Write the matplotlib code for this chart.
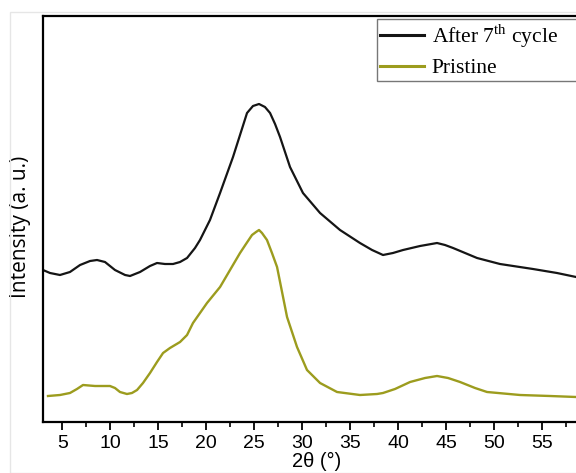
import numpy as np
import matplotlib
matplotlib.use("Agg")
import matplotlib.pyplot as plt
from matplotlib.ticker import MultipleLocator
from matplotlib.patches import Rectangle

plt.rcParams['mathtext.fontset'] = 'custom'
plt.rcParams['mathtext.rm'] = 'Liberation Serif'

# 読み取った値 (2θ, 強度は任意単位)
cycled_2theta = [3.00, 3.73, 4.77, 5.81, 6.86, 7.90, 8.63, 9.46, 10.50, 11.55,
                 12.07, 13.11, 14.15, 14.88, 15.71, 16.55, 17.28, 18.01, 18.84, 19.36,
                 20.40, 21.45, 22.80, 23.53, 24.26, 24.88, 25.51, 26.13, 26.66, 27.18,
                 27.70, 28.74, 30.09, 31.87, 33.95, 36.03, 37.29, 38.43, 39.47, 40.52,
                 42.29, 44.06, 44.89, 45.73, 48.23, 50.62, 54.06, 56.56, 58.55, 60.00]
cycled_intensity = [152, 149, 147, 150, 157, 161, 162, 160, 152, 147,
                    146, 150, 156, 159, 158, 158, 160, 164, 174, 182,
                    202, 229, 265, 287, 309, 316, 318, 315, 309, 298,
                    285, 255, 229, 209, 192, 179, 172, 167, 169, 172,
                    176, 179, 177, 174, 164, 158, 153, 149, 145, 143]

pristine_2theta = [3.52, 4.77, 5.81, 6.54, 7.17, 8.42, 9.98, 10.50, 11.02, 11.75,
                   12.27, 12.80, 13.42, 14.15, 14.88, 15.51, 16.23, 17.28, 18.01, 18.63,
                   19.36, 20.09, 21.45, 22.49, 23.53, 24.15, 24.78, 25.20, 25.51, 25.82,
                   26.34, 26.86, 27.39, 28.43, 29.47, 30.51, 31.87, 33.64, 36.03, 37.81,
                   38.43, 39.68, 41.25, 42.81, 44.06, 45.21, 46.46, 48.02, 49.27, 52.71,
                   55.83, 58.55, 60.00]
pristine_intensity = [26, 27, 29, 33, 37, 36, 36, 34, 30, 28,
                      29, 32, 39, 49, 60, 69, 74, 80, 87, 99,
                      109, 119, 135, 152, 169, 178, 187, 190, 192, 189,
                      182, 169, 155, 105, 75, 52, 39, 30, 27, 28,
                      29, 33, 40, 44, 46, 44, 40, 34, 30, 27,
                      26, 25, 25]

labels = [r"After 7$^{\mathrm{th}}$ cycle", "Pristine"]
colors = ["#151515", "#9c9c1e"]
x_ticks = [5, 10, 15, 20, 25, 30, 35, 40, 45, 50, 55]

W, H = 576, 473
fig = plt.figure(figsize=(W / 100, H / 100), dpi=100)
# 右端は画像の外まで伸びている
ax = fig.add_axes([43 / W, (H - 422) / H, 547 / W, 406 / H])

ax.plot(cycled_2theta, cycled_intensity, color=colors[0], lw=1.6, label=labels[0])
ax.plot(pristine_2theta, pristine_intensity, color=colors[1], lw=1.7, label=labels[1])

ax.set_xlim(3, 60)
ax.set_ylim(0, 406)
ax.set_xticks(x_ticks)
ax.xaxis.set_minor_locator(MultipleLocator(2.5))
ax.set_yticks([])
ax.tick_params(axis='x', which='major', direction='out', length=6, width=1.3,
               labelsize=14, pad=3)
ax.tick_params(axis='x', which='minor', direction='out', length=3.5, width=1.2)
for lab in ax.get_xticklabels():
    lab.set_family('Liberation Sans')

for side in ['left', 'bottom', 'top']:
    ax.spines[side].set_linewidth(1.6)
ax.spines['right'].set_visible(False)

ax.set_xlabel("2θ (°)", fontsize=14.5, family='Liberation Sans', labelpad=0)
ax.set_ylabel("Intensity (a. u.)", fontsize=15, family='Open Sans')
ax.yaxis.set_label_coords(-12 / 547, 0.48)

# 凡例の枠は画像の右端の外まで続く
leg = ax.legend(loc='upper left', bbox_to_anchor=(377 / W, 1 - 78 / H, 230 / W, 59 / H),
                bbox_transform=fig.transFigure, borderaxespad=0, mode='expand',
                prop={'family': 'Liberation Serif', 'size': 15.5},
                frameon=True, fancybox=False, edgecolor='#555555',
                handlelength=2.05, handletextpad=0.35, borderpad=0.15,
                labelspacing=0.38)
leg.get_frame().set_linewidth(1.0)
for line in leg.get_lines():
    line.set_linewidth(2.2)

# 画像の薄い外枠
fig.patches.append(Rectangle((10 / W, 0), 1, 1 - 12 / H, transform=fig.transFigure,
                             fill=False, edgecolor='#e6e6e6', lw=1.0))

fig.savefig("out.png", dpi=100)
